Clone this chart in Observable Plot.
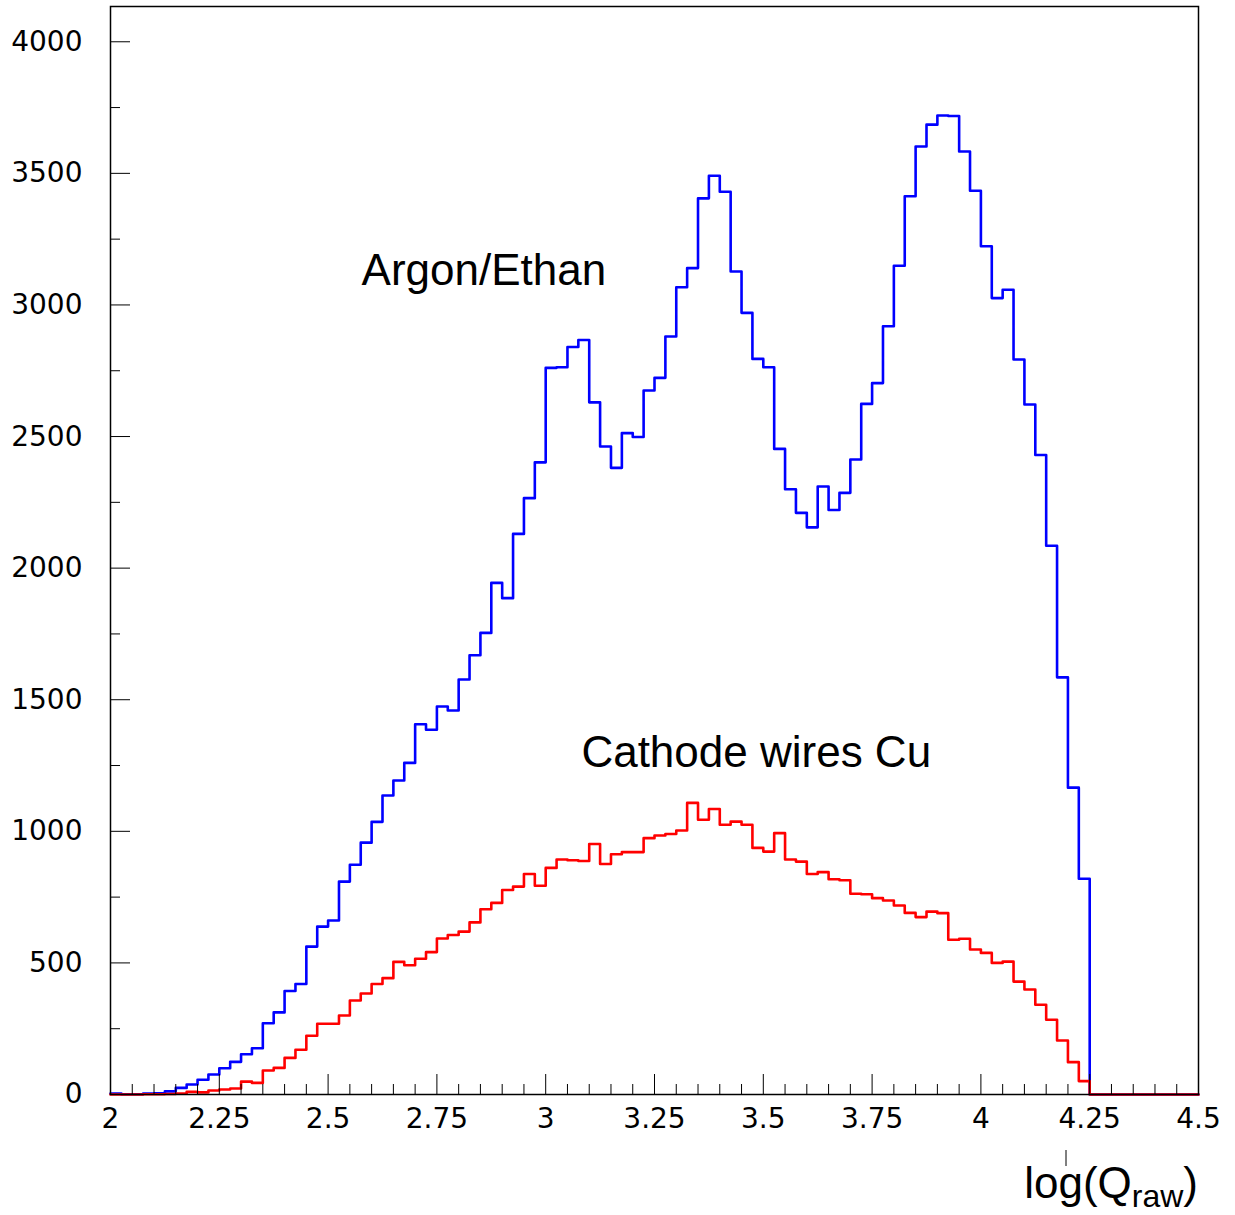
<!DOCTYPE html>
<html>
<head>
<meta charset="utf-8">
<script src="https://cdn.jsdelivr.net/npm/d3@7"></script>
<script src="https://cdn.jsdelivr.net/npm/@observablehq/plot@0.6"></script>
<style>
  html, body { margin: 0; padding: 0; background: #fff; }
</style>
</head>
<body>
<div id="chart"></div>
<script>
// ---- Data ----
const binStart = 2.0;
const binWidth = 0.025;

// Argon/Ethan (blue) bin contents, 100 bins from 2.0 to 4.5
const argonEthan = [
  4, 1, 1, 4, 5, 12, 25, 38, 56, 76,
  100, 124, 153, 176, 271, 312, 393, 420, 562, 638,
  661, 809, 873, 957, 1036, 1136, 1193, 1260, 1407, 1386,
  1474, 1459, 1577, 1669, 1754, 1944, 1886, 2130, 2266, 2402,
  2761, 2763, 2840, 2867, 2630, 2462, 2381, 2513, 2498, 2675,
  2723, 2880, 3067, 3140, 3405, 3491, 3430, 3127, 2970, 2795,
  2763, 2453, 2300, 2210, 2155, 2310, 2221, 2286, 2413, 2624,
  2703, 2919, 3149, 3413, 3602, 3685, 3720, 3718, 3583, 3434,
  3223, 3026, 3058, 2793, 2622, 2430, 2085, 1585, 1166, 820,
  0, 0, 0, 0, 0, 0, 0, 0, 0, 0
];

// Cathode wires Cu (red) bin contents
const cathodeCu = [
  0, 0, 0, 1, 1, 2, 4, 10, 8, 15,
  19, 23, 49, 44, 91, 101, 139, 170, 223, 269,
  269, 300, 357, 384, 420, 442, 504, 491, 516, 541,
  593, 606, 619, 654, 704, 728, 777, 790, 838, 793,
  861, 893, 890, 887, 952, 876, 913, 921, 921, 974,
  984, 990, 1003, 1108, 1044, 1085, 1025, 1037, 1025, 937,
  923, 993, 893, 885, 838, 845, 818, 814, 763, 761,
  746, 737, 718, 690, 674, 695, 689, 588, 592, 551,
  538, 500, 505, 429, 399, 341, 284, 205, 123, 51,
  0, 0, 0, 0, 0, 0, 0, 0, 0, 0
];

const xMajorTicks = [2, 2.25, 2.5, 2.75, 3, 3.25, 3.5, 3.75, 4, 4.25, 4.5];
const xTickLabels = ["2", "2.25", "2.5", "2.75", "3", "3.25", "3.5", "3.75", "4", "4.25", "4.5"];
const xMinorTicks = [
  2.05, 2.1, 2.15, 2.2, 2.3, 2.35, 2.4, 2.45, 2.55, 2.6, 2.65, 2.7,
  2.8, 2.85, 2.9, 2.95, 3.05, 3.1, 3.15, 3.2, 3.3, 3.35, 3.4, 3.45,
  3.55, 3.6, 3.65, 3.7, 3.8, 3.85, 3.9, 3.95, 4.05, 4.1, 4.15, 4.2,
  4.3, 4.35, 4.4, 4.45
];
const yMajorTicks = [0, 500, 1000, 1500, 2000, 2500, 3000, 3500, 4000];
const yTickLabels = ["0", "500", "1000", "1500", "2000", "2500", "3000", "3500", "4000"];
const yMinorTicks = [250, 750, 1250, 1750, 2250, 2750, 3250, 3750];

const xDomain = [2, 4.5];
const yDomain = [0, 4134];

const annotations = [
  {label: "Argon/Ethan", x: 2.577, y: 3074},
  {label: "Cathode wires Cu", x: 3.082, y: 1246}
];

// ---- Build step rows (bin low edges plus closing edge) ----
function stepRows(values) {
  const rows = values.map((v, i) => ({x: binStart + i * binWidth, y: v}));
  rows.push({x: binStart + values.length * binWidth, y: values[values.length - 1]});
  return rows;
}

const W = 1235, H = 1215;
const mL = 110, mR = 37, mT = 6, mB = 121;
const frameW = W - mL - mR, frameH = H - mT - mB;
const majorLen = 20, minorLen = 10;

const chart = Plot.plot({
  width: W,
  height: H,
  marginLeft: mL,
  marginRight: mR,
  marginTop: mT,
  marginBottom: mB,
  style: {fontFamily: "DejaVu Sans", fontSize: "28px", color: "black", background: "white", overflow: "visible"},
  x: {domain: xDomain},
  y: {domain: yDomain},
  marks: [
    Plot.lineY(stepRows(argonEthan), {x: "x", y: "y", curve: "step-after", stroke: "#0000ff", strokeWidth: 2.6}),
    Plot.lineY(stepRows(cathodeCu), {x: "x", y: "y", curve: "step-after", stroke: "#ff0000", strokeWidth: 2.6}),
    // inward ticks
    Plot.tickX(xMajorTicks, {x: d => d, insetTop: frameH - majorLen, stroke: "black", strokeWidth: 1}),
    Plot.tickX(xMinorTicks, {x: d => d, insetTop: frameH - minorLen, stroke: "black", strokeWidth: 1}),
    Plot.tickY(yMajorTicks, {y: d => d, insetRight: frameW - majorLen, stroke: "black", strokeWidth: 1}),
    Plot.tickY(yMinorTicks, {y: d => d, insetRight: frameW - minorLen, stroke: "black", strokeWidth: 1}),
    // tick labels
    Plot.axisX(xMajorTicks, {tickSize: 0, tickPadding: 14, tickFormat: d => xTickLabels[xMajorTicks.indexOf(d)], label: null}),
    Plot.axisY(yMajorTicks, {tickSize: 0, tickPadding: 28, tickFormat: d => yTickLabels[yMajorTicks.indexOf(d)], label: null}),
    Plot.text(annotations, {x: "x", y: "y", text: "label", textAnchor: "start", lineAnchor: "bottom",
      fontSize: 44, fontFamily: "Liberation Sans, Arial, sans-serif", fill: "black"}),
    Plot.frame({stroke: "black", strokeWidth: 1.5})
  ]
});

document.getElementById("chart").appendChild(chart);

// ---- Axis title: log(Q_raw) ----
const svg = d3.select(chart);
const xs = chart.scale("x");
const rightEdge = xs.apply(xDomain[1]);
const title = svg.append("text")
  .attr("x", rightEdge)
  .attr("y", H - 17)
  .attr("text-anchor", "end")
  .attr("font-family", "Liberation Sans, Arial, sans-serif")
  .attr("font-size", 44)
  .attr("fill", "black");
title.append("tspan").text("log(Q");
title.append("tspan").attr("font-size", 32).attr("dy", 9).text("raw");
title.append("tspan").attr("dy", -9).text(")");
// small stray stroke above the title, as in the reference
svg.append("line")
  .attr("x1", rightEdge - 132).attr("x2", rightEdge - 132)
  .attr("y1", H - 65).attr("y2", H - 49)
  .attr("stroke", "black").attr("stroke-width", 1);
</script>
</body>
</html>
